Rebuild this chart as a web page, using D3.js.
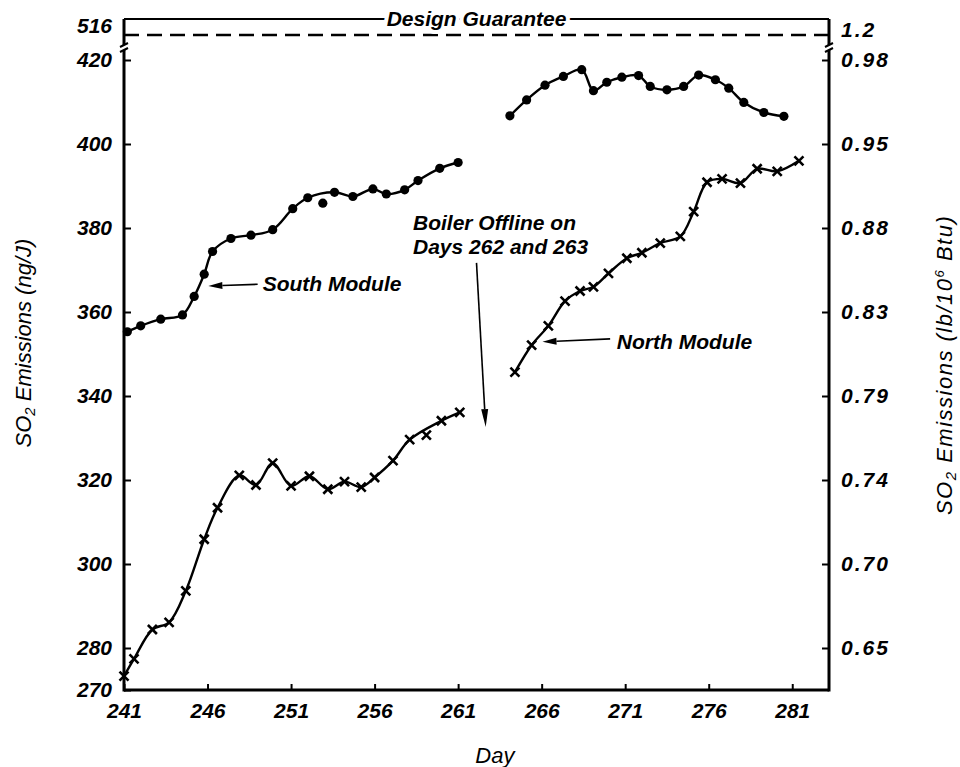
<!DOCTYPE html>
<html>
<head>
<meta charset="utf-8">
<script src="https://cdn.jsdelivr.net/npm/d3@7"></script>
<style>
body { margin: 0; background: #fff; }
text { font-family: "Liberation Sans", Arial, sans-serif; font-style: italic; fill: #000; }
</style>
</head>
<body>
<svg id="chart" width="960" height="767"></svg>
<script>
// values: [day, SO2 ng/J]
var southA = [[241.2,355.3],[242.0,356.7],[243.2,358.3],[244.5,359.3],[245.2,363.7],[245.8,369.0],
    [246.3,374.4],[247.4,377.5],[248.6,378.3],[249.9,379.6],[251.1,384.6],[252.0,387.2],
    [253.6,388.5],[254.7,387.5],[255.9,389.3],[256.7,388.1],[257.8,389.1],[258.6,391.3],
    [259.9,394.2],[261.0,395.6]];
var southB = [[264.1,406.7],[265.1,410.5],[266.2,414.0],[267.3,416.1],[268.4,417.7],[269.1,412.7],
    [269.9,414.7],[270.8,415.9],[271.8,416.3],[272.5,413.7],[273.5,412.9],[274.5,413.7],
    [275.4,416.4],[276.4,415.3],[277.2,413.3],[278.1,409.9],[279.3,407.5],[280.5,406.6]];
var northA = [[241.0,273.3],[241.6,277.4],[242.7,284.4],[243.7,286.1],[244.7,293.6],[245.8,305.9],
    [246.6,313.4],[247.9,321.1],[248.9,318.8],[249.9,324.0],[251.0,318.6],[252.1,320.9],
    [253.2,317.8],[254.2,319.6],[255.2,318.3],[256.0,320.6],[257.1,324.6],[258.1,329.6],
    [260.0,334.1],[261.1,336.1]];
var northB = [[264.4,345.7],[265.4,352.1],[266.4,356.7],[267.4,362.6],[268.3,365.0],[269.1,366.0],
    [270.0,369.2],[271.1,372.8],[272.0,374.1],[273.1,376.4],[274.3,378.0],[275.1,383.9],
    [275.9,390.9],[276.8,391.7],[277.9,390.7],[278.9,394.1],[280.1,393.5],[281.4,396.0]];
// points that sit off the drawn curve
var southStray = [[252.9,385.9]];
var northStray = [[259.1,330.7]];

var dayTicks = [241,246,251,256,261,266,271,276,281];
var ngTicks = [270,280,300,320,340,360,380,400,420];
var lbTicks = [280,300,320,340,360,380,400,420];
var lbLabels = ["0.65","0.70","0.74","0.79","0.83","0.88","0.95","0.98"];
var guarantee = 516;
var guaranteeLb = "1.2";

var notes = [
    {lines: ["South Module"], day: 249.3, val: 366.9, from: [249.0, 366.6], to: [246.05, 366.2], head: 14},
    {lines: ["North Module"], day: 270.5, val: 353.1, from: [270.1, 353.6], to: [266.05, 352.9], head: 14},
    {lines: ["Boiler Offline on", "Days 262 and 263"], day: 258.3, val: 381.3, from: [262.1, 371.7], to: [262.65, 332.6], head: 18}
];

var svg = d3.select("#chart");

var x = d3.scaleLinear().domain([241, 283.2]).range([124, 829]);
var y = d3.scaleLinear().domain([270, 420]).range([690, 60]);
// compressed band above the axis break
var yTop = d3.scaleLinear().domain([420, guarantee]).range([60, 35]);
var frameTop = 19;
var breakY = 48;

var tickFont = "bold 21px 'Liberation Sans', Arial, sans-serif";
var noteFont = "bold 21px 'Liberation Sans', Arial, sans-serif";

// frame
svg.append("line").attr("x1", x.range()[0]).attr("x2", x.range()[1])
    .attr("y1", frameTop).attr("y2", frameTop)
    .style("stroke", "#000").style("stroke-width", 2);
svg.append("line").attr("x1", x.range()[0]).attr("x2", x.range()[1])
    .attr("y1", y(270)).attr("y2", y(270))
    .style("stroke", "#000").style("stroke-width", 3);
[x.range()[0], x.range()[1]].forEach(function(px) {
    svg.append("line").attr("x1", px).attr("x2", px)
        .attr("y1", frameTop).attr("y2", y(270) + 1.5)
        .style("stroke", "#000").style("stroke-width", 3);
});

// axis breaks
[x.range()[0], x.range()[1]].forEach(function(px) {
    svg.append("rect").attr("x", px - 3).attr("y", breakY - 3).attr("width", 6).attr("height", 5)
        .style("fill", "#fff");
    svg.append("path")
        .attr("d", "M" + (px - 4) + "," + (breakY - 1) + "L" + (px + 4) + "," + (breakY - 5) +
                   "M" + (px - 4) + "," + (breakY + 4) + "L" + (px + 4) + "," + breakY)
        .style("fill", "none").style("stroke", "#000").style("stroke-width", 2);
});

// left axis, ticks pointing inside
var gLeft = svg.append("g").attr("transform", "translate(" + x.range()[0] + ",0)")
    .call(d3.axisLeft(y).tickValues(ngTicks).tickSizeInner(-7).tickSizeOuter(0).tickPadding(12));
gLeft.select(".domain").remove();

var gRight = svg.append("g").attr("transform", "translate(" + x.range()[1] + ",0)")
    .call(d3.axisRight(y).tickValues(lbTicks).tickSizeInner(-7).tickSizeOuter(0).tickPadding(12)
        .tickFormat(function(d, i) { return lbLabels[i]; }));
gRight.select(".domain").remove();

var gBottom = svg.append("g").attr("transform", "translate(0," + y(270) + ")")
    .call(d3.axisBottom(x).tickValues(dayTicks).tickSizeInner(-6).tickSizeOuter(0).tickPadding(13)
        .tickFormat(d3.format("d")));
gBottom.select(".domain").remove();

svg.selectAll(".tick line").style("stroke", "#000").style("stroke-width", 2);
svg.selectAll(".tick text").style("font", tickFont).style("font-style", "italic");
gRight.selectAll(".tick text").style("letter-spacing", "2px");

// labels for the guarantee level
svg.append("text").attr("x", x.range()[0] - 12).attr("y", yTop(guarantee) - 9)
    .attr("dy", "0.32em").attr("text-anchor", "end")
    .style("font", tickFont).style("font-style", "italic").text(guarantee);
svg.append("text").attr("x", x.range()[1] + 12).attr("y", yTop(guarantee) - 5)
    .attr("dy", "0.32em")
    .style("font", tickFont).style("font-style", "italic").style("letter-spacing", "2px")
    .text(guaranteeLb);

// design guarantee
svg.append("line").attr("x1", x.range()[0]).attr("x2", x.range()[1])
    .attr("y1", yTop(guarantee)).attr("y2", yTop(guarantee))
    .style("stroke", "#000").style("stroke-width", 2.5).style("stroke-dasharray", "15,8");
svg.append("text").attr("x", x(262.1)).attr("y", frameTop).attr("dy", "0.35em")
    .attr("text-anchor", "middle")
    .style("font", noteFont).style("font-style", "italic")
    .style("stroke", "#fff").style("stroke-width", 8).style("paint-order", "stroke")
    .text("Design Guarantee");

// curves
var line = d3.line()
    .x(function(d) { return x(d[0]); })
    .y(function(d) { return y(d[1]); })
    .curve(d3.curveCatmullRom.alpha(0.5));

[southA, southB, northA, northB].forEach(function(series) {
    svg.append("path")
        .attr("d", line(series))
        .style("fill", "none")
        .style("stroke", "#000")
        .style("stroke-width", 2.4);
});

svg.selectAll(".south")
    .data(southA.concat(southB, southStray))
    .enter().append("circle")
    .attr("class", "south")
    .attr("cx", function(d) { return x(d[0]); })
    .attr("cy", function(d) { return y(d[1]); })
    .attr("r", 4.6)
    .style("fill", "#000");

svg.selectAll(".north")
    .data(northA.concat(northB, northStray))
    .enter().append("path")
    .attr("class", "north")
    .attr("transform", function(d) { return "translate(" + x(d[0]) + "," + y(d[1]) + ")"; })
    .attr("d", "M-4.5,-4.5L4.5,4.5M-4.5,4.5L4.5,-4.5")
    .style("stroke", "#000")
    .style("stroke-width", 2.6);

// annotations
notes.forEach(function(n) {
    var t = svg.append("text")
        .attr("x", x(n.day)).attr("y", y(n.val))
        .style("font", noteFont).style("font-style", "italic");
    n.lines.forEach(function(s, i) {
        t.append("tspan").attr("x", x(n.day)).attr("dy", i == 0 ? "0.36em" : "1.15em").text(s);
    });
    var x1 = x(n.from[0]), y1 = y(n.from[1]), x2 = x(n.to[0]), y2 = y(n.to[1]);
    var ang = Math.atan2(y2 - y1, x2 - x1);
    var hx = x2 - n.head * Math.cos(ang), hy = y2 - n.head * Math.sin(ang);
    svg.append("line").attr("x1", x1).attr("y1", y1).attr("x2", hx).attr("y2", hy)
        .style("stroke", "#000").style("stroke-width", 1.6);
    var w = 3.5;
    svg.append("path")
        .attr("d", "M" + x2 + "," + y2 +
            "L" + (hx + w * Math.sin(ang)) + "," + (hy - w * Math.cos(ang)) +
            "L" + (hx - w * Math.sin(ang)) + "," + (hy + w * Math.cos(ang)) + "Z")
        .style("fill", "#000");
});

// axis titles
svg.append("text")
    .attr("transform", "translate(31," + y(352.6) + ") rotate(-90)")
    .attr("text-anchor", "middle")
    .style("font-size", "22px")
    .html("SO<tspan font-size='15px' dy='4'>2</tspan><tspan dy='-4'> Emissions (ng/J)</tspan>");
svg.append("text")
    .attr("transform", "translate(952," + y(347.4) + ") rotate(-90)")
    .attr("text-anchor", "middle")
    .style("font-size", "22px")
    .style("letter-spacing", "1.5px")
    .html("SO<tspan font-size='15px' dy='4'>2</tspan><tspan dy='-4'> Emissions (lb/10</tspan><tspan font-size='13px' dy='-8'>6</tspan><tspan dy='8'> Btu)</tspan>");
svg.append("text")
    .attr("x", x(263.2)).attr("y", 763)
    .attr("text-anchor", "middle")
    .style("font-size", "22px")
    .text("Day");
</script>
</body>
</html>
